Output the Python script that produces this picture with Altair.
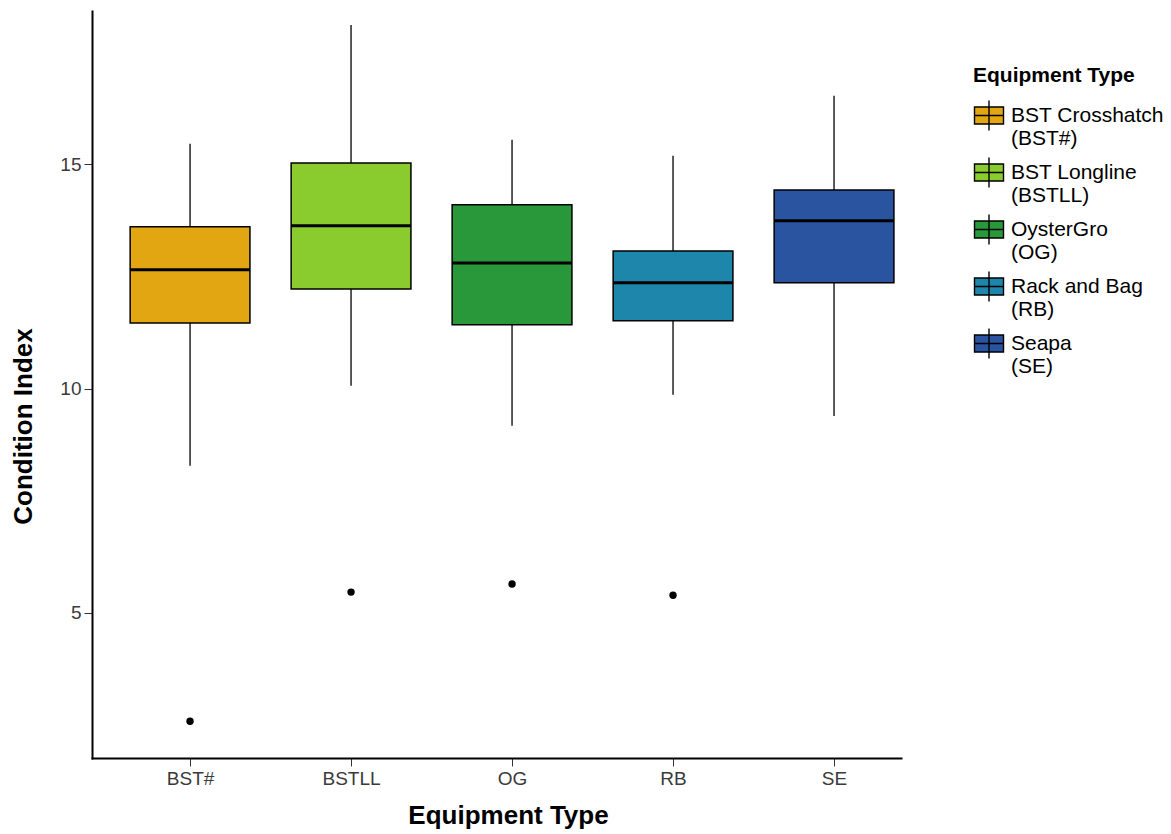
import json
import altair as alt
import pandas as pd

codes = ["BST#", "BSTLL", "OG", "RB", "SE"]
names = ["BST Crosshatch|(BST#)", "BST Longline|(BSTLL)", "OysterGro|(OG)",
         "Rack and Bag|(RB)", "Seapa|(SE)"]
colors = ["#E1A612", "#8ACB2E", "#28983A", "#1E85AB", "#2A53A0"]
pos = [1, 2, 3, 4, 5]
lower = [8.28, 10.06, 9.17, 9.86, 9.39]
q1 = [11.46, 12.22, 11.42, 11.51, 12.36]
median = [12.65, 13.63, 12.80, 12.36, 13.74]
q3 = [13.61, 15.03, 14.10, 13.07, 14.43]
upper = [15.46, 18.11, 15.55, 15.19, 16.53]
out_pos = [1, 2, 3, 4]
out_val = [2.58, 5.46, 5.64, 5.39]

FONT = "Liberation Sans"
HALF = 0.372

stats = pd.DataFrame({"pos": pos, "code": codes, "name": names, "lower": lower,
                      "q1": q1, "median": median, "q3": q3, "upper": upper})
outl = pd.DataFrame({"pos": out_pos, "val": out_val})

xscale = alt.Scale(domain=[0.391, 5.416], nice=False, zero=False)
yscale = alt.Scale(domain=[1.76, 18.42], nice=False, zero=False)

label_expr = json.dumps(codes) + "[datum.value - 1]"

common = dict(grid=False, domainColor="black", domainWidth=2, domainCap="square",
              tickColor="#333333", tickSize=8, tickWidth=1, labelColor="#3A3A3A",
              labelFontSize=19, labelFont=FONT, labelPadding=3, titleFont=FONT,
              titleFontSize=26, titleFontWeight="bold", titleColor="black",
              titleBaseline="middle", titleAlign="center")
xax = alt.Axis(values=pos, labelExpr=label_expr, title="Equipment Type",
               titleX=416, titleY=57, **common)
yax = alt.Axis(values=[5, 10, 15], title="Condition Index",
               titleX=-69, titleY=415, titleAngle=-90, **common)

base = alt.Chart(stats).transform_calculate(
    xl="datum.pos - %f" % HALF, xr="datum.pos + %f" % HALF)

whisker = base.mark_rule(color="black", strokeWidth=1.3).encode(
    x=alt.X("pos:Q", scale=xscale, axis=xax),
    y=alt.Y("lower:Q", scale=yscale, axis=yax),
    y2="upper:Q")

sym = "M-0.967,-0.567H0.967V0.567H-0.967Z M0,-1V1 M-0.967,0H0.967"

box = base.mark_bar(stroke="black", strokeWidth=1.5, opacity=1).encode(
    x="xl:Q", x2="xr:Q",
    y="q1:Q", y2="q3:Q",
    fill=alt.Fill("name:N", scale=alt.Scale(domain=names, range=colors),
                  legend=alt.Legend(title="Equipment Type", orient="none",
                                    legendX=881, legendY=53.5,
                                    symbolType=sym, symbolSize=900,
                                    symbolStrokeColor="black", symbolStrokeWidth=1.4,
                                    symbolOpacity=1,
                                    labelExpr="split(datum.label, '|')",
                                    labelFont=FONT, labelFontSize=21, labelColor="black",
                                    labelBaseline="middle", labelOffset=6,
                                    labelLimit=300,
                                    titleFont=FONT, titleFontSize=21, titleFontWeight="bold",
                                    titleColor="black", titlePadding=14,
                                    rowPadding=6)))

med = base.mark_rule(color="black", strokeWidth=3).encode(
    x="xl:Q", x2="xr:Q", y="median:Q")

pts = alt.Chart(outl).mark_circle(color="black", size=55, opacity=1).encode(
    x="pos:Q", y="val:Q")

chart = alt.layer(whisker, box, med, pts).properties(
    width=809, height=747,
    autosize=alt.AutoSizeParams(type="none"),
    padding={"left": 84, "top": 3, "right": 262, "bottom": 80},
).configure(
    view={"stroke": None},
    style={"guide-label": {"lineHeight": 23}},
)

chart.save("out.html", embed_options={"renderer": "svg", "actions": False})
